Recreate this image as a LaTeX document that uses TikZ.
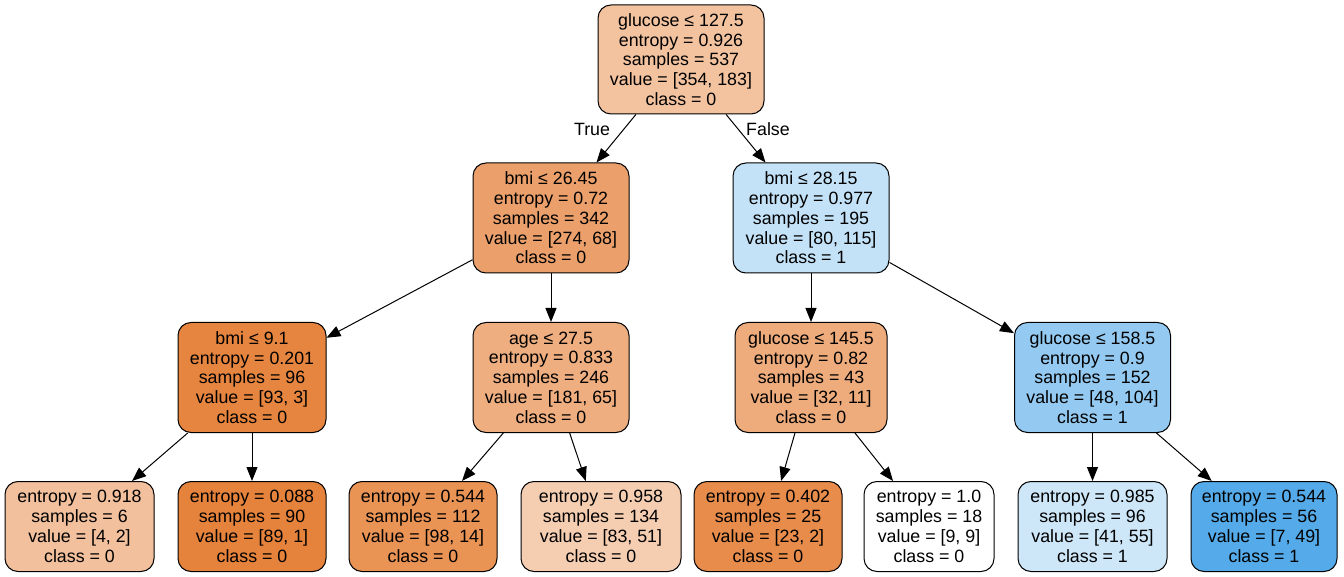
\documentclass[tikz,border=0pt]{standalone}
\usepackage{fontspec}
\setmainfont{Liberation Sans}
\usetikzlibrary{arrows.meta}
\definecolor{cO}{RGB}{229,129,57}
\definecolor{cB}{RGB}{57,157,229}
\tikzset{
  tn/.style={draw=black, line width=1pt, rounded corners=13pt, align=center,
    font=\fontsize{17.8}{19.8}\selectfont, inner sep=0pt, minimum height=110pt},
  lf/.style={tn, minimum height=90pt},
  edge/.style={draw=black, line width=1pt, -{Triangle[length=14pt,width=11pt]}},
  elab/.style={font=\fontsize{17.8}{19.8}\selectfont, inner sep=0pt},
}
\begin{document}
\begin{tikzpicture}[x=1pt,y=-1pt]
\useasboundingbox (0,0) rectangle (1344,577);
\node[tn, fill=cO!48!white, minimum width=166pt, minimum height=109pt] (n0) at (681,59.5)
  {glucose ≤ 127.5\\entropy = 0.926\\samples = 537\\value = [354, 183]\\class = 0};
\node[tn, fill=cO!75!white, minimum width=156pt] (n1) at (551,218)
  {bmi ≤ 26.45\\entropy = 0.72\\samples = 342\\value = [274, 68]\\class = 0};
\node[tn, fill=cB!30!white, minimum width=156pt] (n2) at (811,218)
  {bmi ≤ 28.15\\entropy = 0.977\\samples = 195\\value = [80, 115]\\class = 1};
\node[tn, fill=cO!97!white, minimum width=148pt] (n3) at (252,377.5)
  {bmi ≤ 9.1\\entropy = 0.201\\samples = 96\\value = [93, 3]\\class = 0};
\node[tn, fill=cO!64!white, minimum width=156pt] (n4) at (551,377.5)
  {age ≤ 27.5\\entropy = 0.833\\samples = 246\\value = [181, 65]\\class = 0};
\node[tn, fill=cO!66!white, minimum width=152pt] (n5) at (811,377.5)
  {glucose ≤ 145.5\\entropy = 0.82\\samples = 43\\value = [32, 11]\\class = 0};
\node[tn, fill=cB!54!white, minimum width=156pt] (n6) at (1092.5,377.5)
  {glucose ≤ 158.5\\entropy = 0.9\\samples = 152\\value = [48, 104]\\class = 1};
\node[lf, fill=cO!50!white, minimum width=149pt] (l1) at (79.5,526.5)
  {entropy = 0.918\\samples = 6\\value = [4, 2]\\class = 0};
\node[lf, fill=cO!99!white, minimum width=148pt] (l2) at (252,526.5)
  {entropy = 0.088\\samples = 90\\value = [89, 1]\\class = 0};
\node[lf, fill=cO!86!white, minimum width=148pt] (l3) at (423,526.5)
  {entropy = 0.544\\samples = 112\\value = [98, 14]\\class = 0};
\node[lf, fill=cO!39!white, minimum width=160pt] (l4) at (601,526.5)
  {entropy = 0.958\\samples = 134\\value = [83, 51]\\class = 0};
\node[lf, fill=cO!91!white, minimum width=148pt] (l5) at (768,526.5)
  {entropy = 0.402\\samples = 25\\value = [23, 2]\\class = 0};
\node[lf, fill=white, minimum width=130pt] (l6) at (929,526.5)
  {entropy = 1.0\\samples = 18\\value = [9, 9]\\class = 0};
\node[lf, fill=cB!25!white, minimum width=149pt] (l7) at (1092.5,526.5)
  {entropy = 0.985\\samples = 96\\value = [41, 55]\\class = 1};
\node[lf, fill=cB!86!white, minimum width=146pt] (l8) at (1264,526.5)
  {entropy = 0.544\\samples = 56\\value = [7, 49]\\class = 1};
\draw[edge] (n0) -- (n1);
\draw[edge] (n0) -- (n2);
\draw[edge] (n1) -- (n3);
\draw[edge] (n1) -- (n4);
\draw[edge] (n2) -- (n5);
\draw[edge] (n2) -- (n6);
\draw[edge] (n3) -- (l1);
\draw[edge] (n3) -- (l2);
\draw[edge] (n4) -- (l3);
\draw[edge] (n4) -- (l4);
\draw[edge] (n5) -- (l5);
\draw[edge] (n5) -- (l6);
\draw[edge] (n6) -- (l7);
\draw[edge] (n6) -- (l8);
\node[elab] (tl) at (592,129) {True};
\node[elab] (fl) at (768,129) {False};
\end{tikzpicture}
\end{document}
